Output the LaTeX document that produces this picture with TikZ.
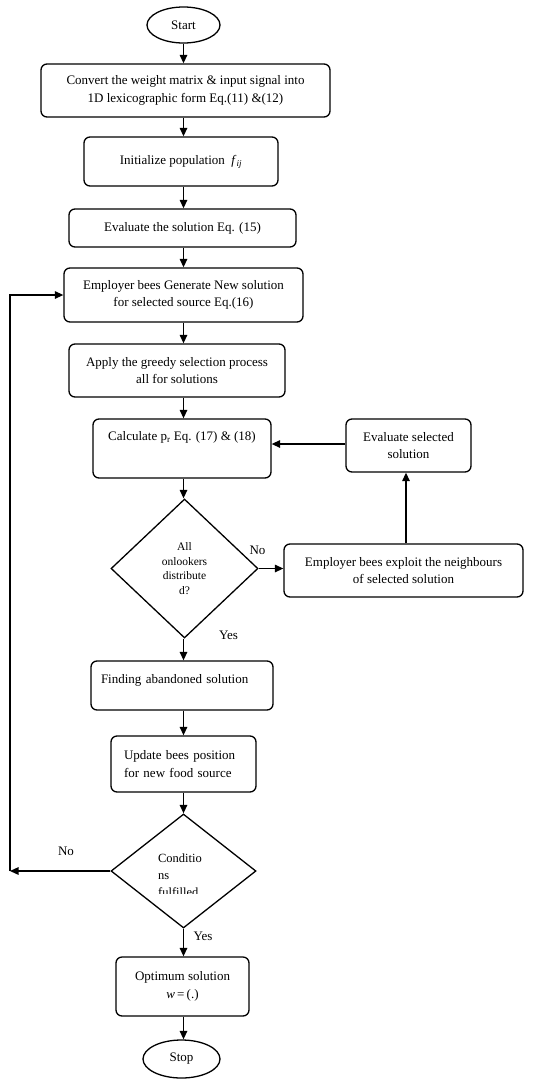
\documentclass[tikz,border=0pt]{standalone}
\usepackage{fontspec}
\setmainfont{Liberation Serif}
\usetikzlibrary{arrows.meta,shapes.geometric}
\begin{document}
\begin{tikzpicture}[x=1pt,y=-1pt,
  base/.style={draw, line width=1.3pt, font=\fontsize{13}{17.5}\selectfont, inner sep=2pt},
  proc/.style={base, rectangle, rounded corners=6pt, align=center},
  term/.style={base, ellipse, inner sep=0pt},
  dec/.style={base, diamond, inner sep=0pt},
  arr/.style={line width=1.3pt, -{Triangle[length=8.5pt,width=7.5pt]}},
  lab/.style={font=\fontsize{13}{16}\selectfont, inner sep=0pt},
  small/.style={font=\fontsize{11.5}{14.5}\selectfont}
]
\useasboundingbox (0,0) rectangle (546,1079);
\coordinate (col) at (183.5,0);
\coordinate (lc) at (10,0);
\coordinate (vx) at (406,0);
\coordinate (hy) at (0,444);

\node[term, minimum width=73pt, minimum height=36pt] (start) at (183.5,25) {Start};
\node[proc, minimum width=289pt, minimum height=53pt] (b1) at (185.5,90.5)
  {Convert the weight matrix \& input signal into\\1D lexicographic form Eq.(11) \&(12)};
\node[proc, minimum width=194pt, minimum height=49pt] (b2) at (181,161.5)
  {Initialize population \ \textit{f}\textsubscript{\textit{ij}}};
\node[proc, minimum width=227pt, minimum height=38pt] (b3) at (182.5,228)
  {Evaluate the solution Eq. (15)};
\node[proc, minimum width=239pt, minimum height=54pt] (b4) at (183.5,295)
  {Employer bees Generate New solution\\for selected source Eq.(16)};
\node[proc, minimum width=216pt, minimum height=53pt] (b5) at (177,370.5)
  {Apply the greedy selection process\\all for solutions};
\node[proc, minimum width=178pt, minimum height=59pt, text depth=25pt] (b6) at (182,448.5)
  {Calculate p\textsubscript{r} Eq. (17) \& (18)};
\node[proc, minimum width=125pt, minimum height=53pt] (es) at (408.5,445.5)
  {Evaluate selected\\solution};
\node[dec, small, minimum width=147pt, minimum height=139pt, align=center] (d1) at (184.5,568.5)
  {All\\onlookers\\distribute\\d?};
\node[proc, minimum width=239pt, minimum height=53pt] (ex) at (403.5,570.5)
  {Employer bees exploit the neighbours\\of selected solution};
\node[proc, minimum width=182pt, minimum height=49pt, text depth=13pt, text width=170pt, align=left] (fi) at (182,685.5)
  {\hspace*{4pt}Finding abandoned solution};
\node[proc, minimum width=145pt, minimum height=56pt, text width=119pt, align=left] (up) at (183.5,764)
  {Update bees position\\for new food source};
\node[dec, minimum width=145pt, minimum height=114pt] (d2) at (183.5,871) {};
\begin{scope}
  \clip (100,800) rectangle (270,893);
  \node[font=\fontsize{12.5}{17}\selectfont, align=left, inner sep=0pt] (d2t) at (180,875)
    {Conditio\\ns\\fulfilled};
\end{scope}
\node[proc, minimum width=133pt, minimum height=59pt] (op) at (182.5,986.5)
  {Optimum solution\\\textit{w}\,=\,(.)};
\node[term, minimum width=77pt, minimum height=38pt] (stop) at (181.5,1059) {Stop};

\draw[arr] (start.south -| col) -- (b1.north -| col);
\draw[arr] (b1.south -| col) -- (b2.north -| col);
\draw[arr] (b2.south -| col) -- (b3.north -| col);
\draw[arr] (b3.south -| col) -- (b4.north -| col);
\draw[arr] (b4.south -| col) -- (b5.north -| col);
\draw[arr] (b5.south -| col) -- (b6.north -| col);
\draw[arr] (b6.south -| col) -- (d1.north -| col);
\draw[arr] (d1.south -| col) -- (fi.north -| col);
\draw[arr] (fi.south -| col) -- (up.north -| col);
\draw[arr] (up.south -| col) -- (d2.north -| col);
\draw[arr] (d2.south -| col) -- (op.north -| col);
\draw[arr] (op.south -| col) -- (stop.north -| col);

\draw[arr] (d1.east) -- (d1.east -| ex.west);
\draw[arr] (ex.north -| vx) -- (es.south -| vx);
\draw[arr] (es.west |- hy) -- (b6.east |- hy);

\draw[arr] (d2.west) -- (d2.west -| lc);
\draw[arr] (d2.west -| lc) |- (b4.west);

\node[lab] (no1) at (257.5,550) {No};
\node[lab] (yes1) at (228.5,635) {Yes};
\node[lab] (no2) at (66,851) {No};
\node[lab] (yes2) at (203,936) {Yes};
\end{tikzpicture}
\end{document}
